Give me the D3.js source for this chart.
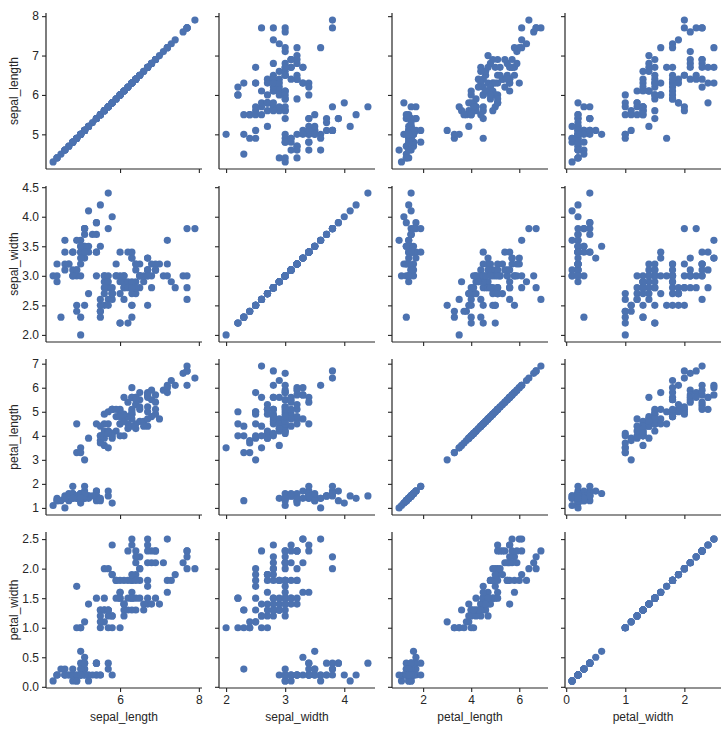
<!DOCTYPE html>
<html><head><meta charset="utf-8">
<script src="https://cdn.jsdelivr.net/npm/d3@7"></script>
<style>body{margin:0;background:#fff}</style>
</head><body>
<script>
const vars = ['sepal_length', 'sepal_width', 'petal_length', 'petal_width'];

const sepal_length = [5.1,4.9,4.7,4.6,5.0,5.4,4.6,5.0,4.4,4.9,5.4,4.8,4.8,4.3,5.8,5.7,5.4,5.1,5.7,5.1,5.4,5.1,4.6,5.1,4.8,5.0,5.0,5.2,5.2,4.7,4.8,5.4,5.2,5.5,4.9,5.0,5.5,4.9,4.4,5.1,5.0,4.5,4.4,5.0,5.1,4.8,5.1,4.6,5.3,5.0,
  7.0,6.4,6.9,5.5,6.5,5.7,6.3,4.9,6.6,5.2,5.0,5.9,6.0,6.1,5.6,6.7,5.6,5.8,6.2,5.6,5.9,6.1,6.3,6.1,6.4,6.6,6.8,6.7,6.0,5.7,5.5,5.5,5.8,6.0,5.4,6.0,6.7,6.3,5.6,5.5,5.5,6.1,5.8,5.0,5.6,5.7,5.7,6.2,5.1,5.7,
  6.3,5.8,7.1,6.3,6.5,7.6,4.9,7.3,6.7,7.2,6.5,6.4,6.8,5.7,5.8,6.4,6.5,7.7,7.7,6.0,6.9,5.6,7.7,6.3,6.7,7.2,6.2,6.1,6.4,7.2,7.4,7.9,6.4,6.3,6.1,7.7,6.3,6.4,6.0,6.9,6.7,6.9,5.8,6.8,6.7,6.7,6.3,6.5,6.2,5.9];
const sepal_width = [3.5,3.0,3.2,3.1,3.6,3.9,3.4,3.4,2.9,3.1,3.7,3.4,3.0,3.0,4.0,4.4,3.9,3.5,3.8,3.8,3.4,3.7,3.6,3.3,3.4,3.0,3.4,3.5,3.4,3.2,3.1,3.4,4.1,4.2,3.1,3.2,3.5,3.6,3.0,3.4,3.5,2.3,3.2,3.5,3.8,3.0,3.8,3.2,3.7,3.3,
  3.2,3.2,3.1,2.3,2.8,2.8,3.3,2.4,2.9,2.7,2.0,3.0,2.2,2.9,2.9,3.1,3.0,2.7,2.2,2.5,3.2,2.8,2.5,2.8,2.9,3.0,2.8,3.0,2.9,2.6,2.4,2.4,2.7,2.7,3.0,3.4,3.1,2.3,3.0,2.5,2.6,3.0,2.6,2.3,2.7,3.0,2.9,2.9,2.5,2.8,
  3.3,2.7,3.0,2.9,3.0,3.0,2.5,2.9,2.5,3.6,3.2,2.7,3.0,2.5,2.8,3.2,3.0,3.8,2.6,2.2,3.2,2.8,2.8,2.7,3.3,3.2,2.8,3.0,2.8,3.0,2.8,3.8,2.8,2.8,2.6,3.0,3.4,3.1,3.0,3.1,3.1,3.1,2.7,3.2,3.3,3.0,2.5,3.0,3.4,3.0];
const petal_length = [1.4,1.4,1.3,1.5,1.4,1.7,1.4,1.5,1.4,1.5,1.5,1.6,1.4,1.1,1.2,1.5,1.3,1.4,1.7,1.5,1.7,1.5,1.0,1.7,1.9,1.6,1.6,1.5,1.4,1.6,1.6,1.5,1.5,1.4,1.5,1.2,1.3,1.4,1.3,1.5,1.3,1.3,1.3,1.6,1.9,1.4,1.6,1.4,1.5,1.4,
  4.7,4.5,4.9,4.0,4.6,4.5,4.7,3.3,4.6,3.9,3.5,4.2,4.0,4.7,3.6,4.4,4.5,4.1,4.5,3.9,4.8,4.0,4.9,4.7,4.3,4.4,4.8,5.0,4.5,3.5,3.8,3.7,3.9,5.1,4.5,4.5,4.7,4.4,4.1,4.0,4.4,4.6,4.0,3.3,4.2,4.2,4.2,4.3,3.0,4.1,
  6.0,5.1,5.9,5.6,5.8,6.6,4.5,6.3,5.8,6.1,5.1,5.3,5.5,5.0,5.1,5.3,5.5,6.7,6.9,5.0,5.7,4.9,6.7,4.9,5.7,6.0,4.8,4.9,5.6,5.8,6.1,6.4,5.6,5.1,5.6,6.1,5.6,5.5,4.8,5.4,5.6,5.1,5.1,5.9,5.7,5.2,5.0,5.2,5.4,5.1];
const petal_width = [0.2,0.2,0.2,0.2,0.2,0.4,0.3,0.2,0.2,0.1,0.2,0.2,0.1,0.1,0.2,0.4,0.4,0.3,0.3,0.3,0.2,0.4,0.2,0.5,0.2,0.2,0.4,0.2,0.2,0.2,0.2,0.4,0.1,0.2,0.2,0.2,0.2,0.1,0.2,0.2,0.3,0.3,0.2,0.6,0.4,0.3,0.2,0.2,0.2,0.2,
  1.4,1.5,1.5,1.3,1.5,1.3,1.6,1.0,1.3,1.4,1.0,1.5,1.0,1.4,1.3,1.4,1.5,1.0,1.5,1.1,1.8,1.3,1.5,1.2,1.3,1.4,1.4,1.7,1.5,1.0,1.1,1.0,1.2,1.6,1.5,1.6,1.5,1.3,1.3,1.3,1.2,1.4,1.2,1.0,1.3,1.2,1.3,1.3,1.1,1.3,
  2.5,1.9,2.1,1.8,2.2,2.1,1.7,1.8,1.8,2.5,2.0,1.9,2.1,2.0,2.4,2.3,1.8,2.2,2.3,1.5,2.3,2.0,2.0,1.8,2.1,1.8,1.8,1.8,2.1,1.6,1.9,2.0,2.2,1.5,1.4,2.3,2.4,1.8,1.8,2.1,2.4,2.3,1.9,2.3,2.5,2.3,1.9,2.0,2.3,1.8];

const xTicks = [[6, 8], [2, 3, 4], [2, 4, 6], [0, 1, 2]];
const yTicks = [[5, 6, 7, 8], [2.0, 2.5, 3.0, 3.5, 4.0, 4.5], [1, 2, 3, 4, 5, 6, 7], [0.0, 0.5, 1.0, 1.5, 2.0, 2.5]];
const yFormats = ['d', '.1f', 'd', '.1f'];

const cols = {sepal_length, sepal_width, petal_length, petal_width};

const W = 726, H = 730;
const size = 156, step = 173, marginLeft = 46, marginTop = 13;
const ink = '#262626';

const svg = d3.select('body').append('svg')
    .attr('width', W).attr('height', H)
    .style('font-family', '"Liberation Sans", Arial, sans-serif');

// padded scales, 5% margins like matplotlib
const scales = vars.map(v => {
    let [a, b] = d3.extent(cols[v]);
    let p = (b - a) * 0.05;
    return [a - p, b + p];
});

vars.forEach((yv, r) => {
    vars.forEach((xv, c) => {
        const g = svg.append('g')
            .attr('transform', `translate(${marginLeft + c * step},${marginTop + r * step})`);
        const x = d3.scaleLinear().domain(scales[c]).range([0, size]);
        const y = d3.scaleLinear().domain(scales[r]).range([size, 0]);

        const xa = d3.axisBottom(x).tickValues(xTicks[c]).tickSize(4).tickPadding(3)
            .tickFormat(r === 3 ? d3.format('d') : '');
        const ya = d3.axisLeft(y).tickValues(yTicks[r]).tickSize(4).tickPadding(3)
            .tickFormat(c === 0 ? d3.format(yFormats[r]) : '');

        const gx = g.append('g').attr('transform', `translate(0,${size})`).call(xa);
        const gy = g.append('g').call(ya);
        [gx, gy].forEach(a => {
            a.select('.domain').remove();
            a.selectAll('line').attr('stroke', ink).attr('stroke-width', 1.1);
            a.selectAll('text').attr('fill', ink).style('font-size', '12px');
        });
        gx.append('line').attr('x1', 0).attr('x2', size).attr('stroke', ink).attr('stroke-width', 1.2);
        gy.append('line').attr('y1', 0).attr('y2', size).attr('stroke', ink).attr('stroke-width', 1.2);

        g.selectAll('circle')
            .data(d3.range(cols[xv].length))
            .join('circle')
            .attr('cx', i => x(cols[xv][i]))
            .attr('cy', i => y(cols[yv][i]))
            .attr('r', 3.6)
            .attr('fill', '#4c72b0');

        if (r === 3) {
            g.append('text').attr('x', size / 2).attr('y', size + 33)
                .attr('text-anchor', 'middle').attr('fill', ink).style('font-size', '12px').text(xv);
        }
        if (c === 0) {
            g.append('text').attr('transform', `translate(-28,${size / 2}) rotate(-90)`)
                .attr('text-anchor', 'middle').attr('fill', ink).style('font-size', '12px').text(yv);
        }
    });
});
</script>
</body></html>
